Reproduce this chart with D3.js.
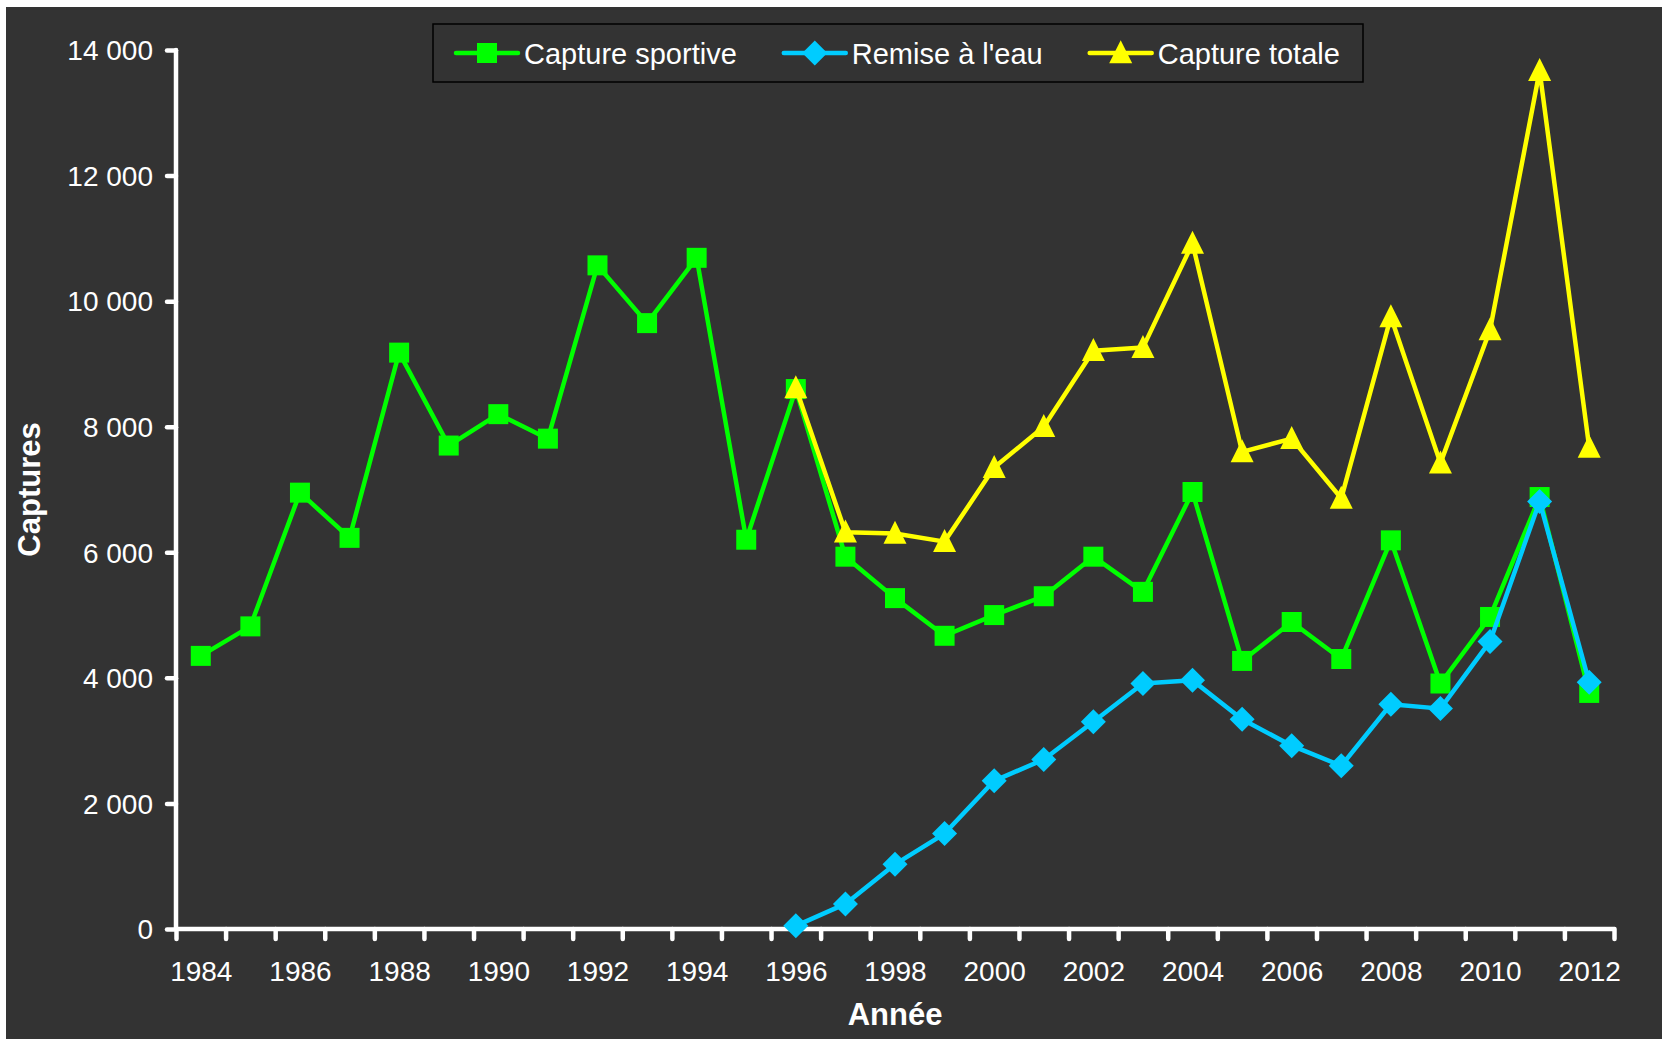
<!DOCTYPE html>
<html>
<head>
<meta charset="utf-8">
<script src="https://cdn.jsdelivr.net/npm/d3@7"></script>
<style>
  html, body { margin: 0; padding: 0; background: #ffffff; }
  svg { display: block; font-family: "Liberation Sans", Arial, sans-serif; }
</style>
</head>
<body>
<div id="chart"></div>
<script>
// years on the category axis
const years = d3.range(1984, 2013);
const remiseYears = d3.range(1996, 2013);

// values
const captureSportive = [4350, 4820, 6950, 6230, 9180, 7700, 8200, 7810, 10570, 9650,
    10690, 6200, 8600, 5930, 5270, 4670, 5000, 5300, 5930, 5370,
    6960, 4270, 4890, 4300, 6190, 3910, 4970, 6880, 3760];
const remiseEau = [50, 400, 1030, 1520, 2360, 2700, 3300, 3910, 3960, 3340,
    2920, 2600, 3580, 3510, 4580, 6810, 3930];
const captureTotale = [8620, 6320, 6300, 6170, 7350, 8000, 9210, 9260, 10920, 7600,
    7810, 6860, 9750, 7420, 9540, 13670, 7670];

const yTicks = d3.range(0, 14001, 2000);
const labelYears = years.filter(y => y % 2 === 0);

const W = 1662, H = 1039;
const margin = {top: 50, right: 48, bottom: 110, left: 176};

const svg = d3.select('#chart').append('svg')
    .attr('width', W)
    .attr('height', H);

// dark chart area (the picture has a thin white strip top and left)
svg.append('rect')
    .attr('x', 6).attr('y', 7)
    .attr('width', W - 6).attr('height', H - 7)
    .attr('fill', '#333333');

const x = d3.scaleLinear()
    .domain([years[0] - 0.5, years[years.length - 1] + 0.5])
    .range([margin.left, W - margin.right]);
const y = d3.scaleLinear()
    .domain([0, 14000])
    .range([H - margin.bottom, margin.top]);

const fmt = d3.formatLocale({decimal: ',', thousands: '\u00a0', grouping: [3], currency: ['', '']}).format(',d');

const axisColor = '#ffffff';
const axisWidth = 4.5;

// Y axis
const gy = svg.append('g')
    .attr('transform', `translate(${margin.left},0)`)
    .call(d3.axisLeft(y).tickValues(yTicks).tickSize(9).tickFormat(fmt));
gy.select('.domain').remove();
gy.selectAll('line')
    .attr('stroke', axisColor).attr('stroke-width', axisWidth).attr('stroke-linecap', 'round');
gy.selectAll('text')
    .attr('x', -23).attr('dy', '0.35em')
    .attr('fill', axisColor)
    .style('font-size', '28px');
gy.append('line')
    .attr('x1', 0).attr('x2', 0)
    .attr('y1', y(0)).attr('y2', y(14000))
    .attr('stroke', axisColor).attr('stroke-width', axisWidth).attr('stroke-linecap', 'round');

// X axis: tick marks on category boundaries
const edges = d3.range(years[0] - 0.5, years[years.length - 1] + 1, 1);
const gxTicks = svg.append('g')
    .attr('transform', `translate(0,${y(0)})`)
    .call(d3.axisBottom(x).tickValues(edges).tickSize(10).tickFormat(''));
gxTicks.select('.domain').remove();
gxTicks.selectAll('line')
    .attr('stroke', axisColor).attr('stroke-width', axisWidth).attr('stroke-linecap', 'round');
gxTicks.append('line')
    .attr('x1', x.range()[0]).attr('x2', x.range()[1])
    .attr('y1', 0).attr('y2', 0)
    .attr('stroke', axisColor).attr('stroke-width', axisWidth).attr('stroke-linecap', 'round');

// X axis labels, every second year, centred in the category
const gxLabels = svg.append('g')
    .attr('transform', `translate(0,${y(0)})`)
    .call(d3.axisBottom(x).tickValues(labelYears).tickSize(0).tickFormat(d3.format('d')));
gxLabels.select('.domain').remove();
gxLabels.selectAll('text')
    .attr('y', 52).attr('dy', 0)
    .attr('fill', axisColor)
    .style('font-size', '28px');

// axis titles
svg.append('text')
    .attr('transform', `translate(40,${(y(0) + y(14000)) / 2}) rotate(-90)`)
    .attr('text-anchor', 'middle')
    .attr('fill', '#ffffff')
    .style('font-size', '31px').style('font-weight', 'bold')
    .text('Captures');
svg.append('text')
    .attr('x', (x.range()[0] + x.range()[1]) / 2)
    .attr('y', 1025)
    .attr('text-anchor', 'middle')
    .attr('fill', '#ffffff')
    .style('font-size', '31px').style('font-weight', 'bold')
    .text('Année');

// marker shapes
const markers = {
    square: s => `M${-s / 2},${-s / 2}h${s}v${s}h${-s}Z`,
    diamond: s => `M0,${-s / 2}L${s / 2},0L0,${s / 2}L${-s / 2},0Z`,
    triangle: s => `M0,${-s * 0.55}L${s / 2},${s * 0.45}L${-s / 2},${s * 0.45}Z`
};

const series = [
    {name: 'Capture sportive', years: years, values: captureSportive, color: '#00ff00', marker: 'square', size: 20},
    {name: "Remise à l'eau", years: remiseYears, values: remiseEau, color: '#00ccff', marker: 'diamond', size: 25},
    {name: 'Capture totale', years: remiseYears, values: captureTotale, color: '#ffff00', marker: 'triangle', size: 23}
];

const line = d3.line()
    .x(d => x(d[0]))
    .y(d => y(d[1]));

series.forEach(s => {
    const pts = s.years.map((yr, i) => [yr, s.values[i]]);
    const g = svg.append('g');
    g.append('path')
        .datum(pts)
        .attr('d', line)
        .attr('fill', 'none')
        .attr('stroke', s.color)
        .attr('stroke-width', 4.5)
        .attr('stroke-linejoin', 'round');
    g.selectAll('path.marker')
        .data(pts)
        .join('path')
        .attr('class', 'marker')
        .attr('transform', d => `translate(${x(d[0])},${y(d[1])})`)
        .attr('d', markers[s.marker](s.size))
        .attr('fill', s.color);
});

// legend
const legend = svg.append('g');
const box = {x: 433, y: 24, w: 930, h: 58};
legend.append('rect')
    .attr('x', box.x).attr('y', box.y)
    .attr('width', box.w).attr('height', box.h)
    .attr('fill', '#333333')
    .attr('stroke', '#000000')
    .attr('stroke-width', 1.5);

let cx = box.x + 23;
const cy = box.y + box.h / 2;
series.forEach(s => {
    const item = legend.append('g');
    item.append('line')
        .attr('x1', cx).attr('x2', cx + 62)
        .attr('y1', cy).attr('y2', cy)
        .attr('stroke', s.color).attr('stroke-width', 4.5).attr('stroke-linecap', 'round');
    item.append('path')
        .attr('transform', `translate(${cx + 31},${cy})`)
        .attr('d', markers[s.marker](s.size))
        .attr('fill', s.color);
    const t = item.append('text')
        .attr('x', cx + 68)
        .attr('y', cy + 10.5)
        .attr('fill', '#ffffff')
        .style('font-size', '29px')
        .text(s.name);
    cx += 68 + t.node().getComputedTextLength() + 47;
});
</script>
</body>
</html>
